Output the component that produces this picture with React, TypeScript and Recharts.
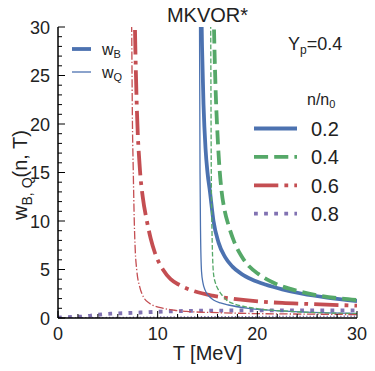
import { LineChart, Line, XAxis, YAxis } from 'recharts';

// T [MeV] and w values, one pair of arrays per curve
const tB02 = [14.35, 14.45, 14.6, 14.8, 15.0, 15.25, 15.6, 16.1, 16.75, 17.5, 18.4, 19.5, 20.8, 22.5, 24.5, 27.0, 30.0];
const wB02 = [34, 28, 22, 17.5, 15, 13, 10, 7.8, 6.3, 5.3, 4.55, 3.95, 3.45, 2.95, 2.5, 2.1, 1.75];

const tQ02 = [14.15, 14.2, 14.25, 14.3, 14.4, 14.55, 14.75, 15.1, 15.6, 16.3, 17.1, 19.1, 21.5, 25.0, 30.0];
const wQ02 = [36, 30, 15, 9, 4.8, 3.6, 2.9, 2.3, 1.86, 1.55, 1.34, 1.0, 0.78, 0.6, 0.47];

const tB04 = [15.55, 15.65, 15.8, 16.0, 16.2, 16.4, 16.7, 17.1, 17.7, 18.4, 19.2, 20.1, 21.2, 22.4, 24.0, 26.0, 28.0, 30.0];
const wB04 = [36, 30, 24, 19, 15.5, 13.2, 11.2, 9.6, 7.8, 6.4, 5.3, 4.55, 3.85, 3.3, 2.8, 2.35, 2.05, 1.85];

const tQ04 = [15.28, 15.32, 15.38, 15.45, 15.6, 15.8, 16.1, 16.5, 16.9, 17.7, 18.75, 20.5, 23.0, 26.0, 30.0];
const wQ04 = [36, 30, 15, 9, 4.6, 3.6, 2.9, 2.3, 1.86, 1.45, 1.17, 0.9, 0.7, 0.55, 0.45];

const tB06 = [7.6, 7.72, 7.9, 8.22, 8.5, 8.9, 9.3, 9.73, 10.56, 11.3, 12.2, 13.7, 15.5, 17.5, 20.3, 22.5, 25.0, 30.0];
const wB06 = [38, 30, 22, 15.3, 12.5, 10.1, 8.2, 6.7, 4.95, 4.0, 3.4, 2.75, 2.3, 2.0, 1.7, 1.55, 1.45, 1.27];

const tQ06 = [7.3, 7.39, 7.47, 7.55, 7.65, 7.75, 7.9, 8.2, 8.56, 9.2, 9.8, 10.56, 11.7, 12.9, 16.0, 20.0, 25.0, 30.0];
const wQ06 = [36, 30, 20, 15.3, 10.1, 7, 4.95, 3.2, 2.2, 1.5, 1.2, 1.0, 0.8, 0.68, 0.55, 0.45, 0.4, 0.35];

const tB08 = [0, 1, 2.7, 3.5, 4.45, 5.3, 6.1, 7.0, 7.8, 8.7, 9.5, 12.5, 15.0, 20.0, 25.0, 30.0];
const wB08 = [0.03, 0.1, 0.17, 0.27, 0.38, 0.45, 0.48, 0.51, 0.55, 0.58, 0.62, 0.72, 0.76, 0.78, 0.78, 0.78];

const tQ08 = [0, 5, 10, 15, 20, 25, 30];
const wQ08 = [0.0, 0.05, 0.1, 0.13, 0.15, 0.17, 0.18];

const densities = ['0.2', '0.4', '0.6', '0.8'];
const xTicks = [0, 2, 4, 6, 8, 10, 12, 14, 16, 18, 20, 22, 24, 26, 28, 30];
const yTicks = Array.from({ length: 31 }, (_, i) => i);

const zip = (t: number[], w: number[]) => t.map((T, i) => ({ T, w: w[i] }));

const FONT = '"Liberation Sans", Arial, Helvetica, sans-serif';
const INK = '#222';
const colors = ['#4C72B0', '#55A868', '#C44E52', '#8172B2'];
const THICK = 3.8;
const THIN = 1.3;
// matplotlib style dash patterns, scaled by line width
const dash = (i: number, lw: number) => {
  if (i === 0) return undefined;
  const pat = i === 1 ? [3.7, 1.6] : i === 2 ? [6.4, 1.6, 1, 1.6] : [1, 1.65];
  return pat.map((v) => (v * lw).toFixed(1)).join(' ');
};

const series = [
  { id: 'B02', i: 0, thick: true, data: zip(tB02, wB02) },
  { id: 'B04', i: 1, thick: true, data: zip(tB04, wB04) },
  { id: 'B06', i: 2, thick: true, data: zip(tB06, wB06) },
  { id: 'B08', i: 3, thick: true, data: zip(tB08, wB08) },
  { id: 'Q02', i: 0, thick: false, data: zip(tQ02, wQ02) },
  { id: 'Q04', i: 1, thick: false, data: zip(tQ04, wQ04) },
  { id: 'Q06', i: 2, thick: false, data: zip(tQ06, wQ06) },
  { id: 'Q08', i: 3, thick: false, data: zip(tQ08, wQ08) },
];

const BottomTick = ({ x, y, payload }: any) => {
  const major = payload.value % 10 === 0;
  return (
    <g>
      <line x1={x} x2={x} y1={y} y2={y - (major ? 7 : 4)} stroke="#000" strokeWidth={1} />
      {major && (
        <text x={x} y={y + 22} textAnchor="middle" fontSize={18} fill={INK} fontFamily={FONT}>
          {payload.value}
        </text>
      )}
    </g>
  );
};

const TopTick = ({ x, y, payload }: any) => {
  const major = payload.value % 10 === 0;
  return <line x1={x} x2={x} y1={y} y2={y + (major ? 7 : 4)} stroke="#000" strokeWidth={1} />;
};

const LeftTick = ({ x, y, payload }: any) => {
  const major = payload.value % 5 === 0;
  return (
    <g>
      <line x1={x} x2={x + (major ? 7 : 4)} y1={y} y2={y} stroke="#000" strokeWidth={1} />
      {major && (
        <text x={x - 8} y={y + 6.5} textAnchor="end" fontSize={18} fill={INK} fontFamily={FONT}>
          {payload.value}
        </text>
      )}
    </g>
  );
};

const RightTick = ({ x, y, payload }: any) => {
  const major = payload.value % 5 === 0;
  return <line x1={x} x2={x - (major ? 7 : 4)} y1={y} y2={y} stroke="#000" strokeWidth={1} />;
};

const axisLine = { stroke: '#000', strokeWidth: 1.5 };

export default function App() {
  return (
    <div style={{ position: 'absolute', left: 0, top: 0, width: 375, height: 371, background: '#fff' }}>
      <LineChart width={375} height={371} margin={{ top: 27, right: 18, bottom: 23, left: 18 }}>
        <XAxis xAxisId="b" dataKey="T" type="number" domain={[0, 30]} ticks={xTicks} interval={0}
          allowDataOverflow orientation="bottom" height={30} tickSize={0} tickMargin={0}
          axisLine={axisLine} tickLine={false} tick={(p: any) => <BottomTick {...p} />} />
        <XAxis xAxisId="t" dataKey="T" type="number" domain={[0, 30]} ticks={xTicks} interval={0}
          allowDataOverflow orientation="top" height={0} tickSize={0} tickMargin={0}
          axisLine={axisLine} tickLine={false} tick={(p: any) => <TopTick {...p} />} />
        <YAxis yAxisId="l" type="number" domain={[0, 30]} ticks={yTicks} interval={0}
          allowDataOverflow orientation="left" width={40} tickSize={0} tickMargin={0}
          axisLine={axisLine} tickLine={false} tick={(p: any) => <LeftTick {...p} />} />
        <YAxis yAxisId="r" type="number" domain={[0, 30]} ticks={yTicks} interval={0}
          allowDataOverflow orientation="right" width={0} tickSize={0} tickMargin={0}
          axisLine={axisLine} tickLine={false} tick={(p: any) => <RightTick {...p} />} />
        {series.map((s) => {
          const lw = s.thick ? THICK : THIN;
          return (
            <Line key={s.id} xAxisId="b" yAxisId="l" data={s.data} dataKey="w" type="monotone"
              stroke={colors[s.i]} strokeWidth={lw} strokeDasharray={dash(s.i, lw)}
              dot={false} activeDot={false} isAnimationActive={false} />
          );
        })}
      </LineChart>

      <svg width={375} height={371} style={{ position: 'absolute', left: 0, top: 0, pointerEvents: 'none' }}
        fontFamily={FONT} fill={INK}>
        <text x={207.5} y={22} textAnchor="middle" fontSize={20}>MKVOR*</text>
        <text x={207.5} y={360} textAnchor="middle" fontSize={20}>T [MeV]</text>
        <text transform="translate(27,175) rotate(-90)" textAnchor="middle" fontSize={20}>
          w<tspan fontSize={14} dy={5}>B, Q</tspan><tspan dy={-5}>(n, T)</tspan>
        </text>

        {/* w_B / w_Q line-width key */}
        <line x1={72} x2={91} y1={49} y2={49} stroke={colors[0]} strokeWidth={THICK} />
        <line x1={72} x2={91} y1={72} y2={72} stroke={colors[0]} strokeWidth={THIN} />
        <text x={102} y={55} fontSize={16}>w<tspan fontSize={11} dy={3}>B</tspan></text>
        <text x={102} y={78} fontSize={16}>w<tspan fontSize={11} dy={3}>Q</tspan></text>

        <text x={288} y={50} fontSize={18}>Y<tspan fontSize={12} dy={4}>p</tspan><tspan dy={-4}>=0.4</tspan></text>

        {/* density key */}
        <text x={307} y={105} fontSize={16}>n/n<tspan fontSize={11} dy={3}>0</tspan></text>
        {densities.map((d, i) => {
          const y = 128.5 + i * 28.4;
          return (
            <g key={d}>
              <line x1={254} x2={297} y1={y} y2={y} stroke={colors[i]} strokeWidth={THICK} strokeDasharray={dash(i, THICK)} />
              <text x={311} y={y + 7.5} fontSize={20}>{d}</text>
            </g>
          );
        })}
      </svg>
    </div>
  );
}
